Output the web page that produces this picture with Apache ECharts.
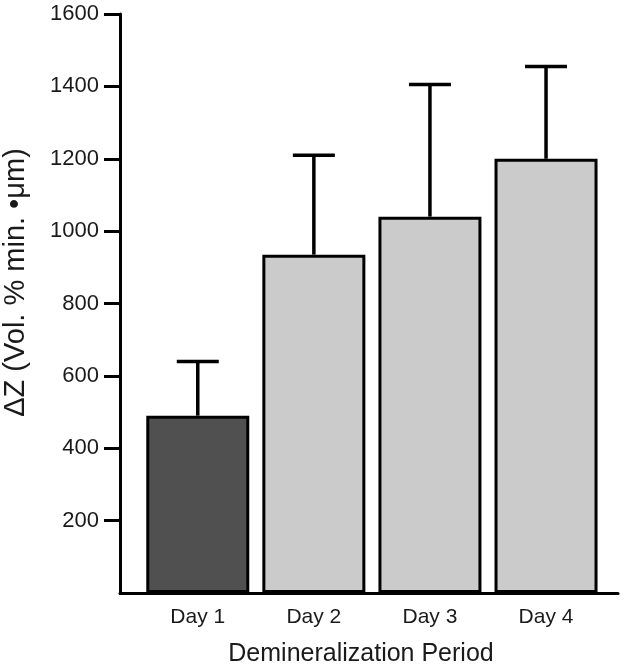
<!DOCTYPE html>
<html>
<head>
<meta charset="utf-8">
<script src="https://cdn.jsdelivr.net/npm/echarts@6/dist/echarts.min.js"></script>
<style>html,body{margin:0;padding:0;background:#fff;}#c{width:624px;height:668px;}</style>
</head>
<body>
<div id="c"></div>
<script>
const categories = ['Day 1', 'Day 2', 'Day 3', 'Day 4'];
const means = [490, 935, 1040, 1200];
const upper = [640, 1210, 1405, 1455];
const yTicks = [200, 400, 600, 800, 1000, 1200, 1400, 1600];
const fills = ['#505050', '#cbcbcb', '#cbcbcb', '#cbcbcb'];

const positions = categories.map((c, i) => i + 1);
const font = 'Liberation Sans, Arial, Helvetica, sans-serif';

const chart = echarts.init(document.getElementById('c'));
chart.setOption({
  animation: false,
  backgroundColor: '#fff',
  grid: { left: 120, right: 6, top: 14, bottom: 75, containLabel: false, outerBoundsMode: 'none' },
  xAxis: {
    type: 'value',
    min: 0.33, max: 4.62,
    name: 'Demineralization Period',
    nameLocation: 'middle',
    nameGap: 49,
    nameTextStyle: { fontFamily: font, fontSize: 25, color: '#1a1a1a', padding: [0, 16, 0, 0] },
    axisLine: { show: true, onZero: false, lineStyle: { color: '#000', width: 3 } },
    axisTick: { show: false },
    splitLine: { show: false },
    axisLabel: {
      customValues: positions,
      formatter: v => categories[Math.round(v) - 1] || '',
      fontFamily: font, fontSize: 21, color: '#1a1a1a', margin: 14
    }
  },
  yAxis: {
    type: 'value',
    min: 0, max: 1600,
    name: 'ΔZ (Vol. % min. •μm)',
    nameLocation: 'middle',
    nameGap: 90,
    nameTextStyle: { fontFamily: font, fontSize: 29, color: '#1a1a1a', padding: [0, 0, 0, 42] },
    axisLine: { show: true, lineStyle: { color: '#000', width: 3 } },
    axisTick: { show: true, length: 16, customValues: yTicks, lineStyle: { color: '#000', width: 3 } },
    splitLine: { show: false },
    axisLabel: { customValues: yTicks, formatter: v => String(v), fontFamily: font, fontSize: 22, color: '#1a1a1a', margin: 21 }
  },
  series: [
    {
      type: 'bar',
      barWidth: 103,
      data: positions.map((p, i) => ({
        value: [p, means[i]],
        itemStyle: { color: fills[i], borderColor: '#000', borderWidth: 3 }
      })),
      z: 2
    },
    {
      type: 'custom',
      z: 1,
      data: positions.map((p, i) => [p, means[i], upper[i]]),
      renderItem: (params, api) => {
        const base = api.coord([api.value(0), api.value(1)]);
        const top = api.coord([api.value(0), api.value(2)]);
        const half = 21;
        const style = { stroke: '#000', lineWidth: 3.5, fill: null };
        return {
          type: 'group',
          children: [
            { type: 'line', shape: { x1: base[0], y1: base[1], x2: top[0], y2: top[1] }, style },
            { type: 'line', shape: { x1: top[0] - half, y1: top[1], x2: top[0] + half, y2: top[1] }, style }
          ]
        };
      }
    }
  ]
});
</script>
</body>
</html>
